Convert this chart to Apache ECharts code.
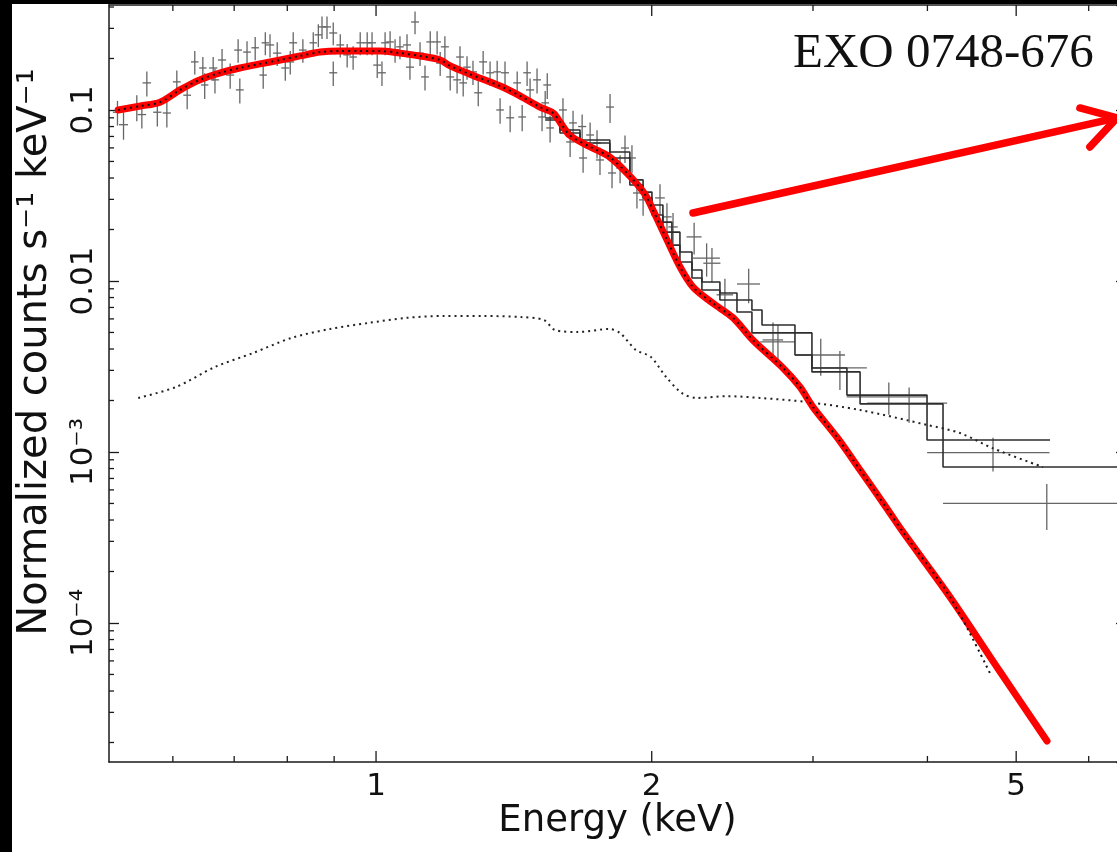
<!DOCTYPE html>
<html><head><meta charset="utf-8">
<script src="https://cdn.jsdelivr.net/npm/echarts@6/dist/echarts.min.js"></script>
<style>
html,body{margin:0;padding:0;background:#000;overflow:hidden;width:1117px;height:852px}
#chart{position:absolute;left:12px;top:4px;width:1140px;height:848px;background:#fff}
</style>
</head><body><div id="chart"></div>
<script>
// ---- data (E in keV, normalized counts s^-1 keV^-1) ----
// data crosses: [E, F, dE, dF]
const dataPoints = [
[0.522,0.097,0.006,0.016],[0.530,0.082,0.006,0.015],[0.548,0.104,0.006,0.018],[0.555,0.094,0.006,0.016],
[0.562,0.144,0.006,0.024],[0.577,0.097,0.006,0.017],[0.591,0.096,0.006,0.017],[0.606,0.146,0.006,0.024],
[0.622,0.122,0.006,0.021],[0.634,0.191,0.006,0.030],[0.647,0.176,0.006,0.028],[0.650,0.140,0.006,0.024],
[0.664,0.176,0.007,0.028],[0.667,0.150,0.007,0.025],[0.679,0.196,0.007,0.031],[0.693,0.160,0.007,0.027],
[0.707,0.224,0.007,0.035],[0.710,0.131,0.007,0.022],[0.723,0.218,0.007,0.034],[0.738,0.231,0.007,0.036],
[0.753,0.160,0.007,0.027],[0.757,0.247,0.007,0.038],[0.766,0.240,0.008,0.037],[0.780,0.215,0.008,0.034],
[0.796,0.176,0.008,0.028],[0.806,0.191,0.008,0.030],[0.812,0.247,0.008,0.038],[0.832,0.224,0.008,0.035],
[0.854,0.247,0.008,0.038],[0.865,0.275,0.008,0.042],[0.873,0.306,0.009,0.046],[0.884,0.306,0.009,0.046],
[0.898,0.282,0.009,0.043],[0.898,0.165,0.009,0.027],[0.914,0.240,0.009,0.037],[0.930,0.210,0.009,0.033],
[0.944,0.204,0.009,0.032],[0.961,0.247,0.009,0.038],[0.978,0.247,0.010,0.038],[0.990,0.247,0.010,0.038],
[1.003,0.183,0.010,0.029],[1.015,0.165,0.010,0.027],[1.023,0.247,0.010,0.038],[1.036,0.250,0.010,0.039],
[1.049,0.224,0.010,0.035],[1.062,0.234,0.010,0.036],[1.081,0.240,0.011,0.037],[1.089,0.178,0.011,0.028],
[1.103,0.327,0.011,0.050],[1.117,0.215,0.011,0.034],[1.131,0.156,0.011,0.026],[1.146,0.250,0.011,0.039],
[1.166,0.250,0.011,0.039],[1.175,0.188,0.012,0.030],[1.189,0.234,0.012,0.036],[1.205,0.156,0.012,0.026],
[1.226,0.150,0.012,0.025],[1.235,0.204,0.012,0.032],[1.245,0.144,0.012,0.024],[1.257,0.178,0.012,0.028],
[1.276,0.167,0.013,0.027],[1.293,0.126,0.013,0.021],[1.309,0.191,0.013,0.030],[1.332,0.165,0.013,0.027],
[1.356,0.167,0.013,0.027],[1.366,0.100,0.013,0.017],[1.383,0.165,0.014,0.027],[1.401,0.090,0.014,0.016],
[1.426,0.144,0.014,0.024],[1.444,0.091,0.014,0.016],[1.462,0.165,0.014,0.027],[1.473,0.131,0.015,0.022],
[1.499,0.150,0.015,0.025],[1.518,0.091,0.015,0.016],[1.530,0.110,0.015,0.019],[1.538,0.140,0.015,0.024],
[1.549,0.0785,0.015,0.014],[1.600,0.100,0.016,0.017],[1.629,0.065,0.016,0.012],[1.641,0.084,0.016,0.015],
[1.679,0.080,0.017,0.014],[1.683,0.0524,0.017,0.0095],[1.713,0.0714,0.017,0.013],[1.743,0.0641,0.017,0.012],
[1.756,0.051,0.018,0.0093],[1.801,0.104,0.018,0.020],[1.810,0.0428,0.018,0.0080],[1.847,0.0458,0.018,0.0085],
[1.870,0.0599,0.019,0.011],[1.903,0.0524,0.019,0.0097],[1.927,0.0327,0.019,0.0062],[1.957,0.0298,0.020,0.0057],
[2.042,0.0306,0.025,0.0062],[2.078,0.0237,0.025,0.0048],[2.110,0.0207,0.025,0.0043],[2.225,0.0181,0.042,0.0038],
[2.296,0.0136,0.078,0.0030],[2.327,0.0127,0.050,0.0029],[2.404,0.0083,0.050,0.0020],[2.552,0.0096,0.074,0.0022],
[2.713,0.00452,0.070,0.0012],[2.747,0.0044,0.120,0.0011],[3.059,0.00369,0.192,0.0009],[3.210,0.0031,0.225,0.0008],
[3.630,0.0021,0.365,0.00045],[3.820,0.00193,0.383,0.00045],[4.717,0.00099,0.720,0.00022],[5.400,0.00050,1.240,0.00015]
];
// red model curve
const modelRed = [[0.523,0.100],[0.553,0.1055],[0.581,0.111],[0.611,0.131],[0.642,0.150],[0.676,0.165],[0.710,0.176],
[0.747,0.186],[0.786,0.196],[0.826,0.207],[0.869,0.218],[0.913,0.221],[0.960,0.221],[1.010,0.221],[1.062,0.215],
[1.117,0.207],[1.175,0.196],[1.205,0.181],[1.266,0.162],[1.366,0.138],[1.436,0.121],[1.510,0.104],[1.561,0.096],
[1.588,0.085],[1.628,0.071],[1.712,0.061],[1.800,0.053],[1.893,0.041],[1.967,0.032],[2.006,0.026],[2.078,0.0174],
[2.147,0.0121],[2.219,0.0092],[2.333,0.0074],[2.453,0.0061],[2.580,0.0045],[2.782,0.0031],[2.903,0.0024],
[3.000,0.00183],[3.186,0.00122],[3.377,0.000785],[3.614,0.000465],[3.762,0.00034],[4.233,0.000142],[4.800,5.2e-5],[5.403,2.04e-5]];
// dotted component drawn through the red curve
const compDotted = [[0.523,0.100],[0.553,0.1055],[0.581,0.111],[0.611,0.131],[0.642,0.150],[0.676,0.165],[0.710,0.176],
[0.747,0.186],[0.786,0.196],[0.826,0.207],[0.869,0.218],[0.913,0.221],[0.960,0.221],[1.010,0.221],[1.062,0.215],
[1.117,0.207],[1.175,0.196],[1.205,0.181],[1.266,0.162],[1.366,0.138],[1.436,0.121],[1.510,0.104],[1.561,0.096],
[1.588,0.085],[1.628,0.071],[1.712,0.061],[1.800,0.053],[1.893,0.041],[1.967,0.032],[2.006,0.026],[2.078,0.0174],
[2.147,0.0121],[2.219,0.0092],[2.333,0.0074],[2.453,0.0061],[2.580,0.0045],[2.782,0.0031],[2.903,0.0024],
[3.000,0.00183],[3.186,0.00122],[3.377,0.000785],[3.614,0.000465],[3.762,0.00034],[4.233,0.000142],[4.680,5.1e-5]];
// second (lower) dotted component
const compLow = [[0.550,0.00207],[0.605,0.00240],[0.667,0.00314],[0.734,0.00379],[0.808,0.00464],[0.891,0.00524],
[0.980,0.00568],[1.078,0.00608],[1.186,0.00624],[1.308,0.00624],[1.440,0.00615],[1.525,0.00591],[1.568,0.00517],
[1.662,0.00503],[1.797,0.00524],[1.847,0.00496],[1.922,0.00395],[1.996,0.00359],[2.073,0.00275],[2.158,0.00221],
[2.241,0.00207],[2.416,0.00212],[2.625,0.00207],[2.955,0.00196],[3.377,0.00176],[3.996,0.00144],[4.342,0.00129],
[4.717,0.00105],[5.349,0.000816]];
// folded model histograms: [bin low edge, value], last = [high edge of last bin, value]
const stepA = [[1.530,0.0898],[1.588,0.0764],[1.670,0.0668],[1.800,0.0568],[1.893,0.0390],[1.957,0.0331],[2.001,0.0278],
[2.057,0.0221],[2.104,0.0193],[2.147,0.01477],[2.213,0.0116],[2.269,0.00987],[2.374,0.00851],[2.478,0.00774],
[2.573,0.00677],[2.639,0.00553],[2.867,0.00497],[2.992,0.00310],[3.267,0.00215],[3.996,0.001175],[5.444,0.001175]];
const stepB = [[1.530,0.0874],[1.588,0.0734],[1.670,0.0641],[1.800,0.0524],[1.893,0.0364],[1.957,0.0306],[2.001,0.0243],
[2.057,0.0193],[2.104,0.0162],[2.147,0.01292],[2.213,0.01041],[2.269,0.00886],[2.374,0.00774],[2.478,0.00659],
[2.573,0.00497],[2.867,0.00369],[2.992,0.00294],[3.377,0.00191],[4.160,0.000817],[6.826,0.000817]];
// ticks
const xMajorTicks = [1, 2, 5];
const xMajorLabels = ['1', '2', '5'];
const xMinorTicks = [0.6, 0.7, 0.8, 0.9, 3, 4, 6];
const yMajorTicks = [1e-4, 1e-3, 0.01, 0.1];
const yMajorLabels = ['10\u207B\u2074', '10\u207B\u00B3', '0.01', '0.1'];
const yMinorTicks = [2e-5,3e-5,4e-5,5e-5,6e-5,7e-5,8e-5,9e-5,2e-4,3e-4,4e-4,5e-4,6e-4,7e-4,8e-4,9e-4,
  2e-3,3e-3,4e-3,5e-3,6e-3,7e-3,8e-3,9e-3,0.02,0.03,0.04,0.05,0.06,0.07,0.08,0.09,0.2,0.3,0.4];
// annotation arrow (data coordinates)
const arrowSegs = [
  [[2.2186,0.02498],[6.442,0.0898]],
  [[5.869,0.1027],[6.442,0.0898]],
  [[6.018,0.0608],[6.442,0.0898]]
];
const X_MIN = 0.511, X_MAX = 6.59, Y_MIN = 1.538e-5, Y_MAX = 0.411;

const SANS = '"DejaVu Sans", sans-serif';
const AX = '#1a1a1a';

function xTickRender(labels) {
  return function (params, api) {
    const cs = params.coordSys;
    const px = api.coord([api.value(0), 0.01])[0];
    const len = labels ? 11 : 6;
    const st = { stroke: AX, lineWidth: 1.3 };
    const b = cs.y + cs.height, t = cs.y;
    const ch = [
      { type: 'line', shape: { x1: px, y1: b, x2: px, y2: b - len }, style: st },
      { type: 'line', shape: { x1: px, y1: t, x2: px, y2: t + len }, style: st }
    ];
    if (labels) ch.push({ type: 'text', x: px, y: b + 9,
      style: { text: labels[params.dataIndex], fill: '#111', font: '31px ' + SANS, align: 'center', verticalAlign: 'top' } });
    return { type: 'group', children: ch };
  };
}
function yMinorRender(params, api) {
  const cs = params.coordSys;
  const py = api.coord([1, api.value(1)])[1];
  const st = { stroke: AX, lineWidth: 1.3 };
  const l = cs.x, r = cs.x + cs.width;
  return { type: 'group', children: [
    { type: 'line', shape: { x1: l, y1: py, x2: l + 5, y2: py }, style: st },
    { type: 'line', shape: { x1: r, y1: py, x2: r - 5, y2: py }, style: st }
  ] };
}
function crossRender(params, api) {
  const E = api.value(0), F = api.value(1), dE = api.value(2), dF = api.value(3);
  const a = api.coord([E - dE, F]), b = api.coord([E + dE, F]);
  const c = api.coord([E, F - dF]), d = api.coord([E, F + dF]);
  const st = { stroke: '#666666', lineWidth: 1.3 };
  return { type: 'group', children: [
    { type: 'line', shape: { x1: a[0], y1: a[1], x2: b[0], y2: b[1] }, style: st },
    { type: 'line', shape: { x1: c[0], y1: c[1], x2: d[0], y2: d[1] }, style: st }
  ] };
}
function yLabel(v) {
  const e = Math.log10(v);
  for (let i = 0; i < yMajorTicks.length; i++) {
    if (Math.abs(Math.log10(yMajorTicks[i]) - e) < 1e-6) return yMajorLabels[i];
  }
  return '';
}

const chart = echarts.init(document.getElementById('chart'), null, { renderer: 'canvas' });
const logX = { type: 'log', min: X_MIN, max: X_MAX, splitLine: { show: false },
  axisLine: { show: true, onZero: false, lineStyle: { color: AX, width: 1.5 } },
  axisTick: { show: false }, axisLabel: { show: false } };
const logY = { type: 'log', min: Y_MIN, max: Y_MAX, splitLine: { show: false },
  axisLine: { show: true, onZero: false, lineStyle: { color: AX, width: 1.5 } },
  axisTick: { show: true, inside: true, length: 10, lineStyle: { color: AX, width: 1.3 } } };

chart.setOption({
  animation: false,
  backgroundColor: '#ffffff',
  title: { text: 'EXO 0748-676', left: 781, top: 26, padding: 0,
    textStyle: { fontFamily: '"Liberation Serif", serif', fontSize: 49, fontWeight: 'normal', color: '#111' } },
  grid: { left: 97, right: 26, top: 1, bottom: 90, containLabel: false },
  xAxis: [
    Object.assign({}, logX, { position: 'bottom', name: 'Energy (keV)', nameLocation: 'middle', nameGap: 41,
      nameTextStyle: { fontFamily: SANS, fontSize: 37, color: '#111' } }),
    Object.assign({}, logX, { position: 'top' })
  ],
  yAxis: [
    Object.assign({}, logY, { position: 'left',
      axisLabel: { show: true, rotate: 90, margin: 10, formatter: yLabel, showMinLabel: false, showMaxLabel: false,
        fontFamily: SANS, fontSize: 31, color: '#111' } }),
    Object.assign({}, logY, { position: 'right', axisLabel: { show: false } })
  ],
  graphic: [{ type: 'text', x: 24, y: 348, rotation: Math.PI / 2,
    style: { text: 'Normalized counts s\u207B\u00B9 keV\u207B\u00B9', font: '40px ' + SANS, fill: '#111',
      align: 'center', verticalAlign: 'middle' } }],
  series: [
    { type: 'custom', name: 'data', renderItem: crossRender, data: dataPoints, encode: { x: 0, y: 1 }, z: 2, clip: true },
    { type: 'line', name: 'model A', data: stepA, step: 'end', symbol: 'none', z: 3,
      lineStyle: { color: '#2e2e2e', width: 1.6 } },
    { type: 'line', name: 'model B', data: stepB, step: 'end', symbol: 'none', z: 3,
      lineStyle: { color: '#2e2e2e', width: 1.6 } },
    { type: 'line', name: 'component 2', data: compLow, symbol: 'none', smooth: 0.3, z: 4,
      lineStyle: { color: '#222', width: 2, type: [2, 4] } },
    { type: 'line', name: 'red model', data: modelRed, symbol: 'none', smooth: 0.3, z: 5,
      lineStyle: { color: '#ff0000', width: 7, cap: 'round', join: 'round' },
      markLine: { silent: true, symbol: ['none', 'none'], label: { show: false },
        lineStyle: { color: '#ff0000', width: 7.5, type: 'solid', cap: 'round' },
        data: arrowSegs.map(s => [{ coord: s[0] }, { coord: s[1] }]) } },
    { type: 'line', name: 'component 1', data: compDotted, symbol: 'none', smooth: 0.3, z: 6,
      lineStyle: { color: '#111', width: 2, type: [2, 4] } },
    { type: 'custom', name: 'x major ticks', renderItem: xTickRender(xMajorLabels), data: xMajorTicks.map(v => [v, 0.01]),
      encode: { x: 0, y: 1 }, z: 10, silent: true },
    { type: 'custom', name: 'x minor ticks', renderItem: xTickRender(null), data: xMinorTicks.map(v => [v, 0.01]),
      encode: { x: 0, y: 1 }, z: 10, silent: true },
    { type: 'custom', name: 'y minor ticks', renderItem: yMinorRender, data: yMinorTicks.map(v => [1, v]),
      encode: { x: 0, y: 1 }, z: 10, silent: true }
  ]
});
</script></body></html>
